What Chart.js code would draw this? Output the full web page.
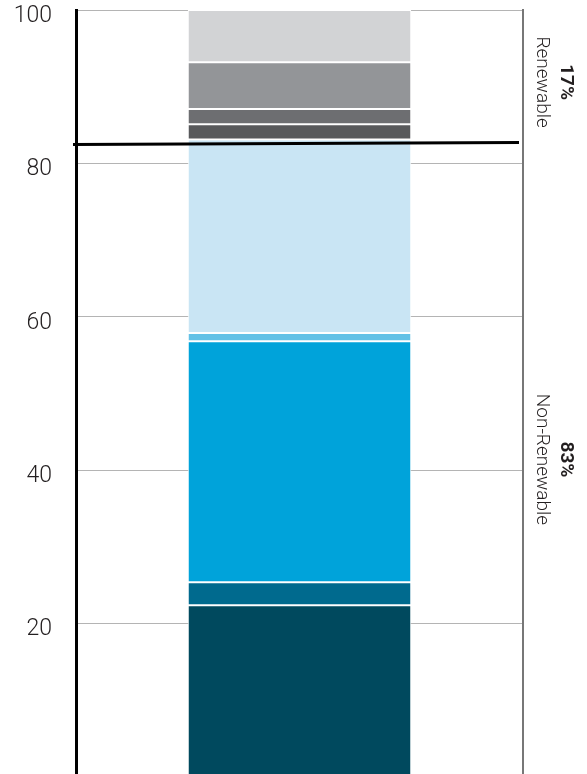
<!DOCTYPE html>
<html>
<head>
<meta charset="utf-8">
<script src="https://cdn.jsdelivr.net/npm/chart.js@4.4.1/dist/chart.umd.min.js"></script>
<style>
  html, body { margin: 0; padding: 0; background: #fff; overflow: hidden; }
  #wrap { width: 587px; height: 778px; }
</style>
</head>
<body>
<div id="wrap"><canvas id="energyMix" width="587" height="778"></canvas></div>
<script>
// values, bottom of the bar to the top
var categories = [""];
var nonRenewableValues = [22.4, 3.0, 31.4, 1.1, 25.2];
var renewableValues = [2.0, 2.0, 6.1, 6.8];
var yTicks = [20, 40, 60, 80, 100];
var groupNames = ["Non-Renewable", "Renewable"];
var dividerValue = 82.6;

var nonRenewableColors = ["#00495e", "#006a8e", "#00a3da", "#63c1e6", "#c9e5f4"];
var renewableColors = ["#58595b", "#6d6e71", "#939598", "#d2d3d5"];

function sum(arr) {
    return arr.reduce(function (a, b) { return a + b; }, 0);
}

var datasets = [];
nonRenewableValues.forEach(function (v, i) {
    datasets.push({ label: groupNames[0] + " " + (i + 1), data: [v], backgroundColor: nonRenewableColors[i] });
});
renewableValues.forEach(function (v, i) {
    datasets.push({ label: groupNames[1] + " " + (i + 1), data: [v], backgroundColor: renewableColors[i] });
});

var groupLabels = [
    { share: Math.round(sum(nonRenewableValues)) + "%", name: groupNames[0], at: 41.4 },
    { share: Math.round(sum(renewableValues)) + "%", name: groupNames[1], at: 90.6 }
];

// divider line + rotated group labels on the right
var overlayPlugin = {
    id: "overlay",
    afterDatasetsDraw: function (chart) {
        var ctx = chart.ctx;
        var area = chart.chartArea;
        var y = chart.scales.y;
        var py = y.getPixelForValue(dividerValue);

        ctx.save();
        ctx.strokeStyle = "#000";
        ctx.lineWidth = 3;
        ctx.beginPath();
        ctx.moveTo(area.left - 3, py + 1);
        ctx.lineTo(area.right - 4, py - 1);
        ctx.stroke();
        ctx.restore();

        groupLabels.forEach(function (g) {
            var cy = y.getPixelForValue(g.at);
            ctx.save();
            ctx.fillStyle = "#231f20";
            ctx.textAlign = "center";
            ctx.textBaseline = "middle";

            ctx.save();
            ctx.translate(area.right + 43, cy);
            ctx.rotate(Math.PI / 2);
            ctx.font = "bold 19px Roboto";
            ctx.fillText(g.share, 0, 0);
            ctx.restore();

            ctx.save();
            ctx.translate(area.right + 19, cy);
            ctx.rotate(Math.PI / 2);
            ctx.font = "300 19px Roboto";
            ctx.fillText(g.name, 0, 0);
            ctx.restore();

            ctx.restore();
        });
    }
};

var chart = new Chart(document.getElementById("energyMix").getContext("2d"), {
    type: "bar",
    data: {
        labels: categories,
        datasets: datasets
    },
    plugins: [overlayPlugin],
    options: {
        responsive: false,
        animation: false,
        events: [],
        layout: {
            padding: { top: 10, right: 64, bottom: 1, left: 0 }
        },
        datasets: {
            bar: {
                barPercentage: 0.5,
                categoryPercentage: 1,
                borderColor: "#ffffff",
                borderWidth: 1,
                borderSkipped: false
            }
        },
        plugins: {
            legend: { display: false },
            tooltip: { enabled: false },
            title: { display: false }
        },
        scales: {
            x: {
                stacked: true,
                display: false
            },
            y: {
                stacked: true,
                min: 0,
                max: 100,
                afterFit: function (scale) {
                    scale.width = 76;
                    scale.paddingTop = 0;
                    scale.paddingBottom = 0;
                },
                afterBuildTicks: function (scale) {
                    scale.ticks = [0].concat(yTicks).map(function (v) { return { value: v }; });
                },
                ticks: {
                    padding: 24,
                    labelOffset: 6,
                    color: "#231f20",
                    font: { family: "Roboto", size: 23, weight: "300" },
                    callback: function (v) { return yTicks.indexOf(v) >= 0 ? String(v) : ""; }
                },
                grid: {
                    color: "#b4b4b4",
                    lineWidth: 1,
                    drawTicks: false
                },
                border: {
                    color: "#000",
                    width: 3
                }
            },
            yRight: {
                position: "right",
                min: 0,
                max: 100,
                afterFit: function (scale) {
                    scale.width = 0;
                    scale.paddingTop = 0;
                    scale.paddingBottom = 0;
                },
                ticks: { display: false },
                grid: { display: false, drawTicks: false },
                border: { color: "#777777", width: 2 }
            }
        }
    }
});
</script>
</body>
</html>
